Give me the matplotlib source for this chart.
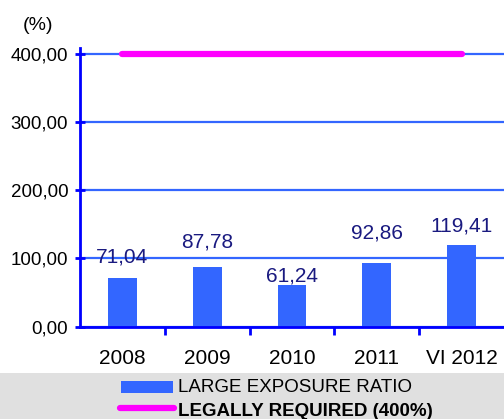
import matplotlib.pyplot as plt
import numpy as np
from matplotlib.patches import Rectangle
from matplotlib.lines import Line2D

plt.rcParams['font.family'] = ['Liberation Sans', 'DejaVu Sans']

# data
years = ['2008', '2009', '2010', '2011', 'VI 2012']
large_exposure = [71.04, 87.78, 61.24, 92.86, 119.41]
legal_limit = 400
y_ticks = [0, 100, 200, 300, 400]

# label offsets above bar top (points), as in the original layout
label_offsets = [11.5, 13.7, 2.2, 18, 10]

bar_color = '#3366ff'
spine_color = '#0000ff'
label_color = '#1a1a80'
limit_color = '#ff00ff'

W, H = 504, 419
fig = plt.figure(figsize=(W / 100, H / 100), dpi=100)
ax = fig.add_axes([80 / W, (H - 326.5) / H, 424 / W, (326.5 - 47.5) / H])

x = np.arange(len(years))
ax.bar(x, large_exposure, width=0.34, color=bar_color, zorder=3)
ax.plot([x[0], x[-1]], [legal_limit, legal_limit], color=limit_color,
        lw=4.5, solid_capstyle='round', zorder=4)

for xi, v, off in zip(x, large_exposure, label_offsets):
    ax.annotate(f'{v:.2f}'.replace('.', ','), (xi, v), xytext=(0, off),
                textcoords='offset points', ha='center', va='baseline',
                fontsize=15, color=label_color, zorder=5)

ax.set_xlim(-0.5, len(years) - 0.5)
ax.set_ylim(0, 410)
ax.set_yticks(y_ticks)
ax.set_yticklabels([f'{t:.2f}'.replace('.', ',') for t in y_ticks], fontsize=13.5)
ax.set_xticks(x)
ax.set_xticklabels(years, fontsize=15)
ax.set_xticks(np.arange(0.5, len(years) - 1, 1), minor=True)

ax.tick_params(axis='x', which='major', length=0, pad=16)
ax.tick_params(axis='x', which='minor', length=6, width=2, color=spine_color,
               direction='out')
ax.tick_params(axis='y', length=7, width=2, color=spine_color,
               direction='inout', pad=5)

ax.grid(True, axis='y', color=bar_color, lw=1.6, zorder=1)
for s in ['top', 'right']:
    ax.spines[s].set_visible(False)
for s in ['left', 'bottom']:
    ax.spines[s].set_color(spine_color)
    ax.spines[s].set_linewidth(2)
    ax.spines[s].set_zorder(6)

fig.text(37.5 / W, 1 - 25 / H, '(%)', ha='center', va='center', fontsize=14)

# legend band
fig.patches.append(Rectangle((0, 0), 1, (H - 373) / H, transform=fig.transFigure,
                             facecolor='#e0e0e0', edgecolor='none', zorder=0))
fig.patches.append(Rectangle((121 / W, 1 - 393 / H), 52 / W, 12 / H,
                             transform=fig.transFigure, facecolor=bar_color,
                             edgecolor='none', zorder=1))
fig.lines.append(Line2D([120 / W, 174 / W], [1 - 408 / H, 1 - 408 / H],
                        transform=fig.transFigure, color=limit_color, lw=4.5,
                        solid_capstyle='round'))
fig.text(178 / W, 1 - 387 / H, 'LARGE EXPOSURE RATIO', ha='left', va='center',
         fontsize=13.5)
fig.text(178 / W, 1 - 411 / H, 'LEGALLY REQUIRED (400%)', ha='left', va='center',
         fontsize=13.5, fontweight='bold')

fig.savefig('out.png', dpi=100)
